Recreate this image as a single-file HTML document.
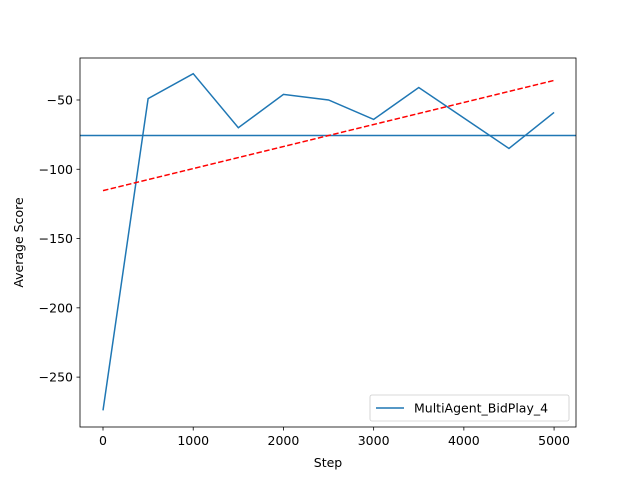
<!DOCTYPE html>
<html><head><meta charset="utf-8"><style>body{margin:0;background:#fff}svg{display:block;font-family:"DejaVu Sans","Liberation Sans",sans-serif}</style></head>
<body>
<svg id="chart" width="640" height="480"></svg>
<script>
const steps=[0,500,1000,1500,2000,2500,3000,3500,4000,4500,5000];
const scores=[-274,-49,-31,-70,-46,-50,-64,-41,-63,-85,-59];
const xTicks=[0,1000,2000,3000,4000,5000];
const yTicks=[-250,-200,-150,-100,-50];
const seriesName="MultiAgent_BidPlay_4";
const L=80,R=576,T=58,B=427,xMin=-255,xMax=5243,yMin=-286,yMax=-19.7;
const sx=v=>L+(v-xMin)/(xMax-xMin)*(R-L);
const sy=v=>B-(v-yMin)/(yMax-yMin)*(B-T);
const svg=document.getElementById('chart');const NS='http://www.w3.org/2000/svg';
function mk(t,a,txt){const e=document.createElementNS(NS,t);for(const k in a)e.setAttribute(k,a[k]);if(txt!==undefined)e.textContent=txt;svg.appendChild(e);return e;}
const n=steps.length,mean=scores.reduce((a,b)=>a+b,0)/n;
const mx=steps.reduce((a,b)=>a+b,0)/n;let num=0,den=0;
for(let i=0;i<n;i++){num+=(steps[i]-mx)*(scores[i]-mean);den+=(steps[i]-mx)**2;}
const slope=num/den,icpt=mean-slope*mx;
let e;
e=mk('polyline',{points:steps.map((s,i)=>sx(s)+','+sy(scores[i])).join(' '),fill:'none',stroke:'#1f77b4','stroke-width':1.5});


e=mk('line',{x1:L,x2:R,y1:sy(mean),y2:sy(mean),stroke:'#1f77b4','stroke-width':1.5});


e=mk('line',{x1:sx(steps[0]),x2:sx(steps[n-1]),y1:sy(icpt+slope*steps[0]),y2:sy(icpt+slope*steps[n-1]),stroke:'red','stroke-width':1.5,'stroke-dasharray':'5.5,2.4'});


e=mk('rect',{x:L,y:T,width:R-L,height:B-T,fill:'none',stroke:'#000','stroke-width':0.8});


xTicks.forEach(v=>{const x=sx(v);mk('line',{x1:x,x2:x,y1:B,y2:B+3.5,stroke:'#000','stroke-width':0.8});
e=mk('text',{x:x,y:B+18,'text-anchor':'middle','font-size':12.5},String(v));

});
yTicks.forEach(v=>{const y=sy(v);mk('line',{x1:L-3.5,x2:L,y1:y,y2:y,stroke:'#000','stroke-width':0.8});
e=mk('text',{x:L-7,y:y+4.5,'text-anchor':'end','font-size':12.5},'\u2212'+Math.abs(v));

});
e=mk('text',{x:(L+R)/2,y:467,'text-anchor':'middle','font-size':12.5},'Step');


e=mk('text',{x:23,y:(T+B)/2,'text-anchor':'middle','font-size':12.5,transform:'rotate(-90 23 '+(T+B)/2+')'},'Average Score');


e=mk('rect',{x:370,y:395,width:199,height:26,rx:2,fill:'#fff',stroke:'#ccc','stroke-width':0.8});


mk('line',{x1:376,x2:404,y1:408,y2:408,stroke:'#1f77b4','stroke-width':1.5});
e=mk('text',{x:414,y:412.5,'font-size':12.5},seriesName);


</script>
</body></html>
